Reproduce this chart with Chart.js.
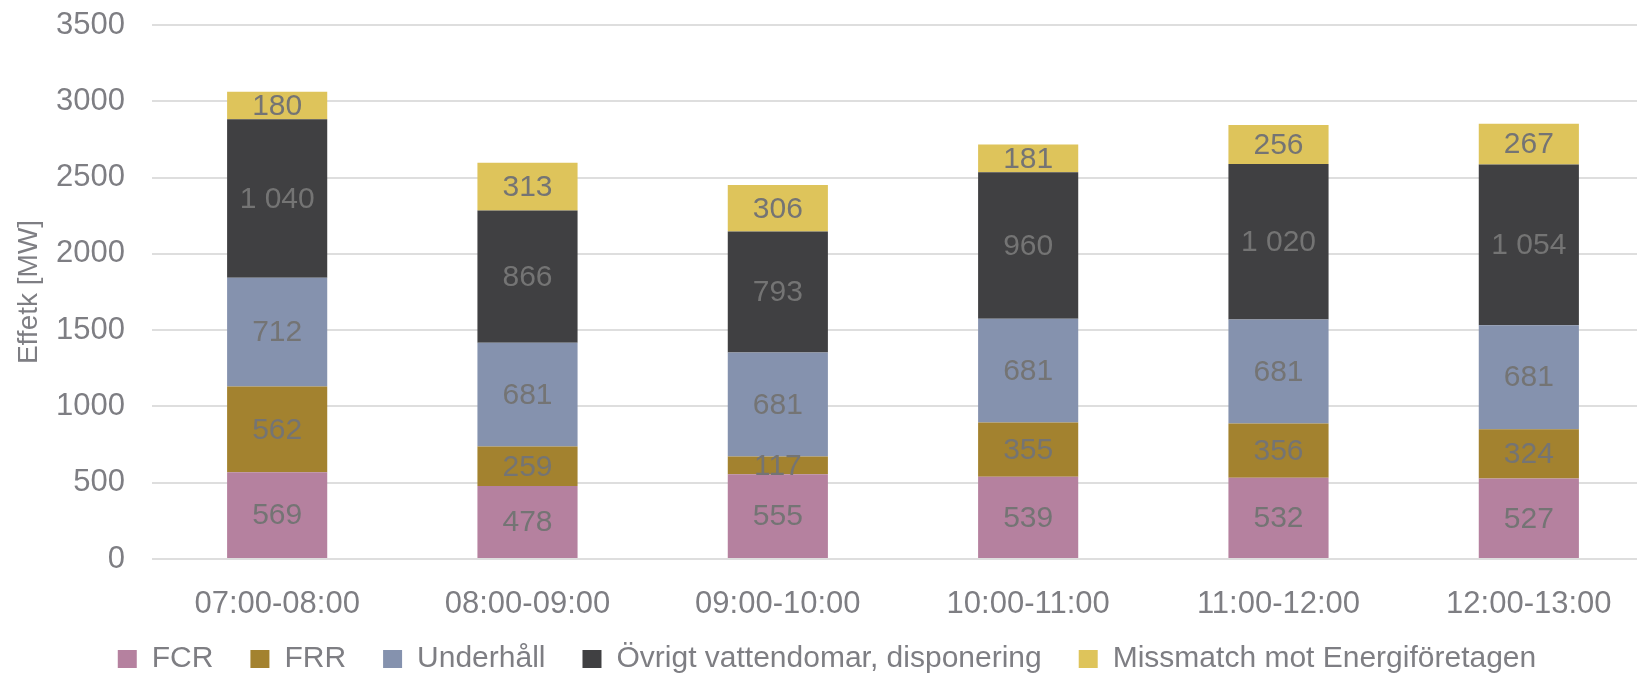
<!DOCTYPE html>
<html>
<head>
<meta charset="utf-8">
<script src="https://cdn.jsdelivr.net/npm/chart.js@4.4.1/dist/chart.umd.min.js"></script>
<style>
  html, body { margin: 0; padding: 0; background: #fff; overflow: hidden; }
  #wrap { width: 1662px; height: 678px; position: relative; }
</style>
</head>
<body>
<div id="wrap"><canvas id="c"></canvas></div>
<script>
// --- data ---
const hours = ['07:00-08:00', '08:00-09:00', '09:00-10:00', '10:00-11:00', '11:00-12:00', '12:00-13:00'];
const fcr = [569, 478, 555, 539, 532, 527];
const frr = [562, 259, 117, 355, 356, 324];
const underhall = [712, 681, 681, 681, 681, 681];
const ovrigt = [1040, 866, 793, 960, 1020, 1054];
const missmatch = [180, 313, 306, 181, 256, 267];

const FONT = '"Liberation Sans", Arial, sans-serif';
const GREY = '#7e7e83';

// values like 1040 are written "1 040"
function fmt(v) {
  return String(v).replace(/\B(?=(\d{3})+(?!\d))/g, ' ');
}

const barLabels = {
  id: 'barLabels',
  afterDatasetsDraw(chart) {
    const ctx = chart.ctx;
    ctx.save();
    ctx.font = '30px ' + FONT;
    ctx.fillStyle = '#747474';
    ctx.textAlign = 'center';
    ctx.textBaseline = 'middle';
    chart.data.datasets.forEach((ds, i) => {
      chart.getDatasetMeta(i).data.forEach((bar, j) => {
        const y = (bar.y + bar.base) / 2;
        ctx.fillText(fmt(ds.data[j]), bar.x, y + 1);
      });
    });
    ctx.restore();
  }
};

new Chart(document.getElementById('c'), {
  type: 'bar',
  data: {
    labels: hours,
    datasets: [
      { label: 'FCR', data: fcr, backgroundColor: '#b5819f' },
      { label: 'FRR', data: frr, backgroundColor: '#a3822f' },
      { label: 'Underhåll', data: underhall, backgroundColor: '#8592ae' },
      { label: 'Övrigt vattendomar, disponering', data: ovrigt, backgroundColor: '#404042' },
      { label: 'Missmatch mot Energiföretagen', data: missmatch, backgroundColor: '#dec45b' }
    ]
  },
  options: {
    responsive: true,
    maintainAspectRatio: false,
    animation: false,
    categoryPercentage: 1,
    barPercentage: 0.4,
    layout: { padding: { top: 25, right: 8, bottom: -6, left: 0 } },
    plugins: {
      tooltip: { enabled: false },
      legend: {
        position: 'bottom',
        labels: {
          boxWidth: 19,
          boxHeight: 18,
          padding: 37,
          color: GREY,
          font: { size: 30, family: FONT }
        }
      }
    },
    scales: {
      x: {
        stacked: true,
        grid: { display: false },
        border: { display: false },
        ticks: { color: GREY, padding: 19, font: { size: 31, family: FONT }, maxRotation: 0 },
        afterFit(scale) {
          scale.height = 48;
          // labels hang below the squeezed axis box, so don't clip them
          scale._computeLabelArea = () => null;
        }
      },
      y: {
        stacked: true,
        min: 0,
        max: 3500,
        grid: { color: '#dedede', lineWidth: 2, drawTicks: false },
        border: { display: false },
        ticks: {
          stepSize: 500,
          color: GREY,
          padding: 27,
          font: { size: 31, family: FONT },
          callback: (v) => String(v)
        },
        title: {
          display: true,
          text: 'Effetk [MW]',
          color: GREY,
          font: { size: 28, family: FONT },
          padding: { top: 12, bottom: 0 }
        },
        afterFit(scale) {
          scale.width = 152;
          scale.paddingTop = 0;
          scale.paddingBottom = 0;
        }
      }
    }
  },
  plugins: [barLabels]
});
</script>
</body>
</html>
